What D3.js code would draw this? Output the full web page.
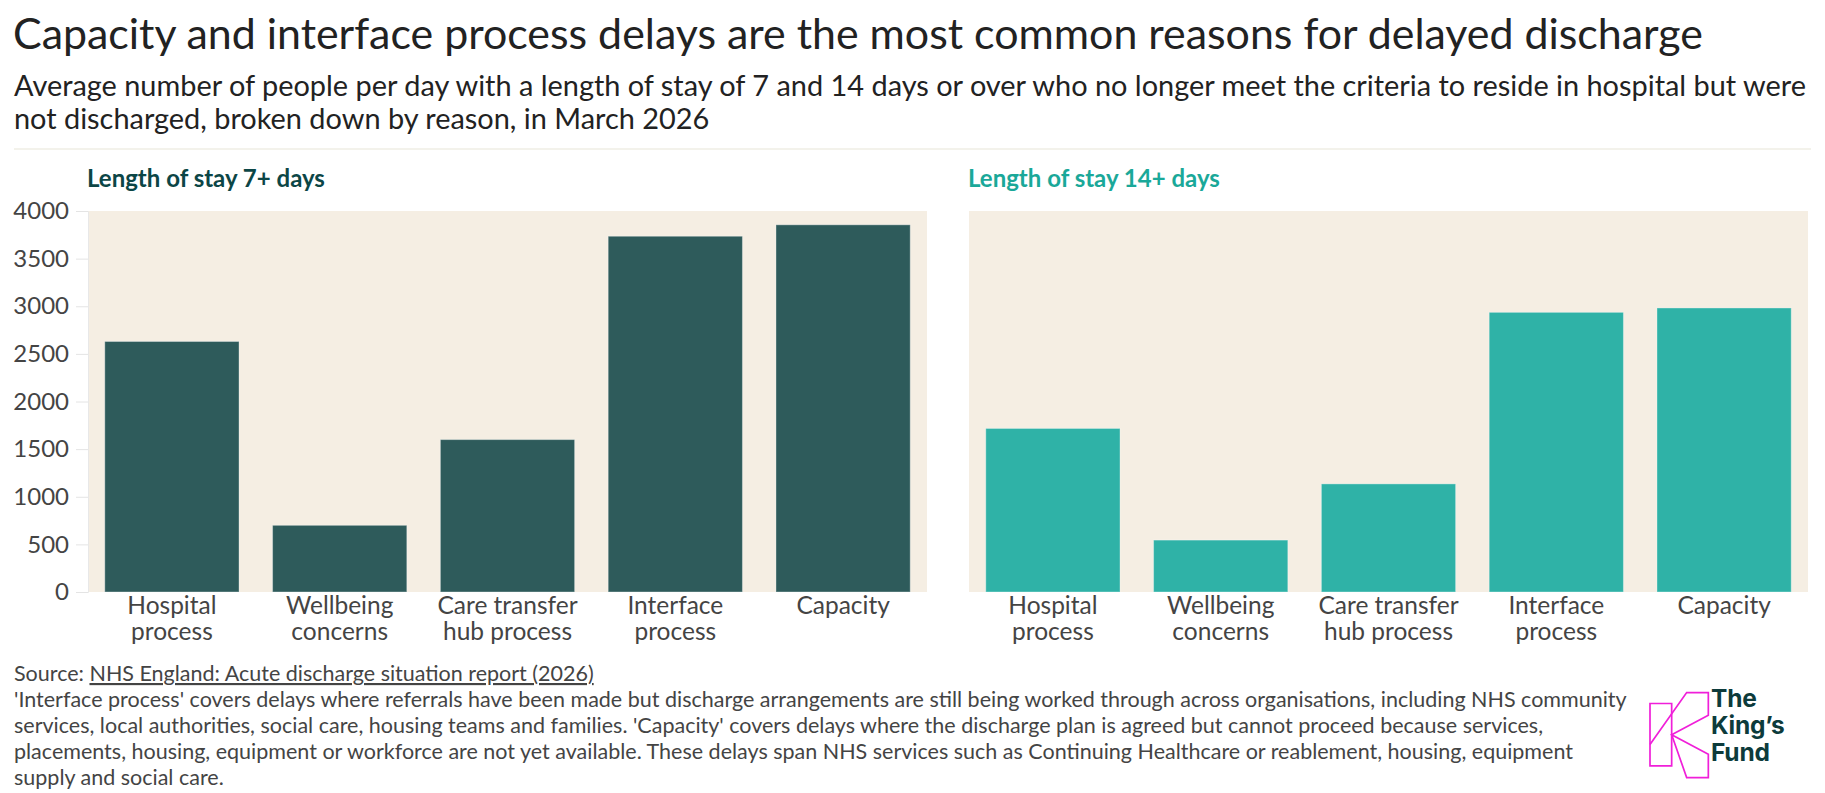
<!DOCTYPE html>
<html>
<head>
<meta charset="utf-8">
<script src="https://cdn.jsdelivr.net/npm/d3@7"></script>
<style>
  body { margin: 0; background: #fff; }
  svg { display: block; font-family: Lato, "Noto Sans", sans-serif; }
</style>
</head>
<body>
<div id="chart"></div>
<script>
// data
const categories = ["Hospital process", "Wellbeing concerns", "Care transfer hub process", "Interface process", "Capacity"];
const categoryLines = [["Hospital", "process"], ["Wellbeing", "concerns"], ["Care transfer", "hub process"], ["Interface", "process"], ["Capacity"]];
const stay7 = [2630, 700, 1600, 3735, 3855];
const stay14 = [1717, 545, 1135, 2936, 2982];
const yTicks = [0, 500, 1000, 1500, 2000, 2500, 3000, 3500, 4000];

const title = "Capacity and interface process delays are the most common reasons for delayed discharge";
const subtitleLines = [
  "Average number of people per day with a length of stay of 7 and 14 days or over who no longer meet the criteria to reside in hospital but were",
  "not discharged, broken down by reason, in March 2026"
];
const sourceLabel = "Source: ";
const sourceLink = "NHS England: Acute discharge situation report (2026)";
const noteLines = [
  "'Interface process' covers delays where referrals have been made but discharge arrangements are still being worked through across organisations, including NHS community",
  "services, local authorities, social care, housing teams and families. 'Capacity' covers delays where the discharge plan is agreed but cannot proceed because services,",
  "placements, housing, equipment or workforce are not yet available. These delays span NHS services such as Continuing Healthcare or reablement, housing, equipment",
  "supply and social care."
];
const logoWords = ["The", "King\u2019s", "Fund"];

const width = 1825, height = 793;
const textCol = "#444";

const svg = d3.select("#chart").append("svg")
  .attr("width", width)
  .attr("height", height);

// header
svg.append("text")
  .attr("x", 13).attr("y", 49)
  .attr("font-size", 42.9)
  .attr("fill", "#222")
  .text(title);

svg.selectAll("text.sub")
  .data(subtitleLines)
  .join("text")
  .attr("class", "sub")
  .attr("x", 14)
  .attr("y", (d, i) => 96 + i * 33)
  .attr("font-size", 28.9)
  .attr("fill", "#222")
  .text(d => d);

svg.append("line")
  .attr("x1", 14).attr("x2", 1811)
  .attr("y1", 149).attr("y2", 149)
  .attr("stroke", "#efeee4")
  .attr("stroke-width", 1.5);

// shared y scale
const y = d3.scaleLinear().domain([0, 4000]).range([592, 211]);

const panels = [
  { name: "Length of stay 7+ days", values: stay7, x0: 88, x1: 927, bar: "#2e5b5b", head: "#0c4646", axis: true },
  { name: "Length of stay 14+ days", values: stay14, x0: 969, x1: 1808, bar: "#2fb2a7", head: "#1aa899", axis: false }
];

panels.forEach(p => {
  const g = svg.append("g");

  g.append("text")
    .attr("x", p.x0 - 1).attr("y", 187)
    .attr("font-size", 24)
    .attr("font-weight", 700)
    .attr("fill", p.head)
    .text(p.name);

  g.append("rect")
    .attr("x", p.x0).attr("y", y(4000))
    .attr("width", p.x1 - p.x0)
    .attr("height", y(0) - y(4000))
    .attr("fill", "#f5eee3");

  const x = d3.scaleBand()
    .domain(categories)
    .range([p.x0, p.x1])
    .paddingInner(0.2)
    .paddingOuter(0.1);

  if (p.axis) {
    const yAxis = g.append("g")
      .attr("transform", "translate(" + p.x0 + ",0)")
      .call(d3.axisLeft(y).tickValues(yTicks).tickFormat(d3.format("d")).tickSize(12).tickPadding(7));
    yAxis.select(".domain").attr("stroke", "#e8e8e8");
    yAxis.selectAll(".tick line").attr("stroke", "#e4e4e4");
    yAxis.selectAll(".tick text")
      .attr("font-family", "Lato")
      .attr("font-size", 24)
      .attr("fill", textCol);
  }

  g.append("g")
    .selectAll("rect")
    .data(p.values)
    .join("rect")
    .attr("x", (d, i) => x(categories[i]))
    .attr("y", d => y(d))
    .attr("width", x.bandwidth())
    .attr("height", d => y(0) - y(d))
    .attr("fill", p.bar)
    .attr("stroke", "rgba(255,255,255,0.35)")
    .attr("stroke-width", 1);

  // two-line category labels
  const lab = g.append("g")
    .selectAll("text")
    .data(categories)
    .join("text")
    .attr("text-anchor", "middle")
    .attr("font-size", 24.5)
    .attr("fill", textCol)
    .attr("transform", d => "translate(" + (x(d) + x.bandwidth() / 2) + ",614)");
  lab.selectAll("tspan")
    .data((d, i) => categoryLines[i])
    .join("tspan")
    .attr("x", 0)
    .attr("y", (d, i) => i * 26)
    .text(d => d);
});

// footer
const src = svg.append("text")
  .attr("x", 14).attr("y", 681)
  .attr("font-size", 21.5)
  .attr("fill", textCol);
src.append("tspan").text(sourceLabel);
src.append("tspan").attr("text-decoration", "underline").text(sourceLink);

svg.selectAll("text.note")
  .data(noteLines)
  .join("text")
  .attr("class", "note")
  .attr("x", 14)
  .attr("y", (d, i) => 707 + i * 26)
  .attr("font-size", 21.5)
  .attr("fill", textCol)
  .text(d => d);

// logo
const logo = svg.append("g").attr("transform", "translate(1640,684) scale(0.3333,0.39)");
logo.append("rect")
  .attr("x", 30).attr("y", 50).attr("width", 65).attr("height", 160)
  .attr("fill", "none").attr("stroke", "#f01fd9").attr("stroke-width", 1.7)
  .attr("vector-effect", "non-scaling-stroke");
logo.append("path")
  .attr("d", "M30,155 L140,22 L205,22 L205,80 L95,130 L205,180 L205,240 L140,240 L95,130")
  .attr("fill", "none").attr("stroke", "#f01fd9").attr("stroke-width", 1.7)
  .attr("vector-effect", "non-scaling-stroke");
svg.selectAll("text.logo")
  .data(logoWords)
  .join("text")
  .attr("class", "logo")
  .attr("x", 1711)
  .attr("y", (d, i) => 707 + i * 27)
  .attr("font-family", "Inter, Lato, sans-serif")
  .attr("font-size", 24.5)
  .attr("font-weight", 700)
  .attr("letter-spacing", -0.2)
  .attr("fill", "#0d3b3b")
  .text(d => d);
</script>
</body>
</html>
